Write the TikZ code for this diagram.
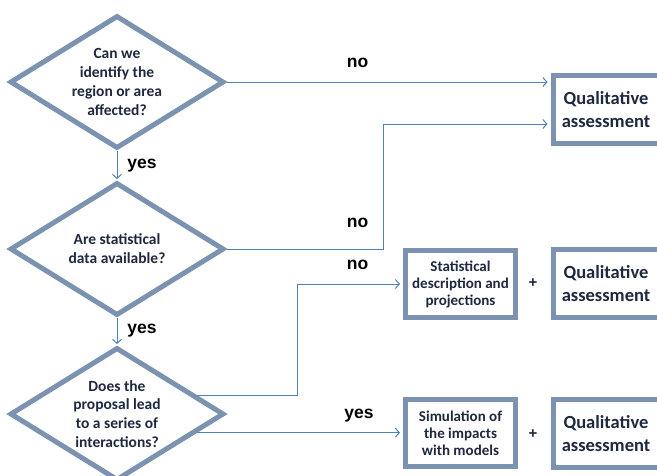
\documentclass[tikz,border=0pt]{standalone}
\usepackage{fontspec}
\setmainfont{Carlito}
\newfontfamily\labfont{Liberation Sans}
\usetikzlibrary{shapes.geometric,arrows.meta,calc}
\definecolor{outl}{RGB}{124,146,177}
\definecolor{conn}{RGB}{79,129,189}
\definecolor{txt}{RGB}{30,40,62}
\tikzset{
  dia/.style={diamond,draw=outl,line width=5pt,minimum width=214pt,minimum height=133pt,inner sep=0pt,fill=white},
  dtext/.style={text=txt,font=\fontsize{15.5}{18.8}\selectfont\bfseries,align=center},
  stbox/.style={draw=outl,line width=5pt,fill=white,inner sep=0pt,text=txt,align=center,font=\fontsize{15}{17}\selectfont\bfseries},
  qbox/.style={draw=outl,line width=5pt,fill=white,inner sep=0pt,minimum width=106pt,minimum height=68pt,text=txt,align=center,font=\fontsize{18.5}{23}\selectfont\bfseries},
  lab/.style={font=\labfont\fontsize{17.5}{20}\selectfont\bfseries,text=black},
  plus/.style={font=\labfont\fontsize{15}{18}\selectfont\bfseries,text=txt},
  arr/.style={draw=conn,line width=1pt,-{Straight Barb[length=4pt,width=9pt]}},
}
\begin{document}
\begin{tikzpicture}[x=1pt,y=-1pt]
\useasboundingbox (0,0) rectangle (657,475);
\node[dia] (d1) at (117,82) {};
\node[dtext] (t1) at (d1) {Can we\\identify the\\region or area\\affected?};
\node[dia] (d2) at (117,249) {};
\node[dtext] (t2) at (d2) {Are statistical\\data available?};
\node[dia] (d3) at (117,414) {};
\node[dtext] (t3) at (d3) {Does the\\proposal lead\\to a series of\\interactions?};

\node[qbox] (q1) at (606,109.5) {Qualitative\\assessment};
\node[stbox,minimum width=110pt,minimum height=67pt] (st) at (460.5,284) {Statistical\\description and\\projections};
\node[qbox] (q2) at (606,283.5) {Qualitative\\assessment};
\node[stbox,minimum width=110pt,minimum height=67pt] (sim) at (460.5,433) {Simulation of\\the impacts\\with models};
\node[qbox] (q3) at (606,433.5) {Qualitative\\assessment};

\node[plus] (p1) at (533,283) {+};
\node[plus] (p2) at (533,434) {+};

\coordinate (b2) at (383,124);
\coordinate (b3) at (297,284);
\coordinate (s3) at ($(d3.east)!0.27!(d3.north)$);
\coordinate (s4) at ($(d3.east)!0.27!(d3.south)$);

\draw[arr,shorten >=3pt] (d1.east) -- (d1.east -| q1.west);
\draw[arr,shorten >=3pt] (d2.east) -| (b2) -- (b2 -| q1.west);
\draw[arr,shorten >=3pt] (s3) -| (b3) -- (st.west);
\draw[arr,shorten >=3pt] (s4) -- (s4 -| sim.west);
\draw[arr,shorten >=1pt] (d1.south) -- (d2.north);
\draw[arr,shorten >=1pt] (d2.south) -- (d3.north);

\node[lab] (n1) at (357.5,62.5) {no};
\node[lab] (n2) at (357.5,222.5) {no};
\node[lab] (n3) at (357.5,264.5) {no};
\node[lab] (y1) at (142,166) {yes};
\node[lab] (y2) at (142,331) {yes};
\node[lab] (y3) at (359,416) {yes};
\end{tikzpicture}
\end{document}
